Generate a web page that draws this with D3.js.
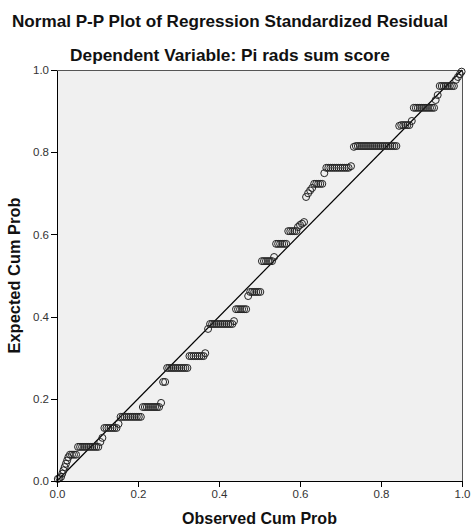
<!DOCTYPE html>
<html>
<head>
<meta charset="utf-8">
<script src="https://cdn.jsdelivr.net/npm/d3@7"></script>
<style>
  body { margin: 0; background: #fff; }
  .axis path, .axis line { stroke: #000; shape-rendering: crispEdges; }
  .axis text { fill: #333; font-family: "Liberation Sans", Arial, sans-serif; font-size: 11.5px; }
</style>
</head>
<body>
<script>
// Observed cumulative probability (x)
var observed = [
	0.002, 0.006, 0.010, 0.013, 0.016, 0.019, 0.022, 0.025, 0.028,
	0.032, 0.037, 0.042, 0.047,
	0.052, 0.057, 0.062, 0.067, 0.072, 0.077, 0.082, 0.087, 0.092, 0.097, 0.102,
	0.107, 0.112,
	0.117, 0.122, 0.127, 0.132, 0.137, 0.142, 0.147, 0.152,
	0.157, 0.162, 0.167, 0.172, 0.177, 0.182, 0.187, 0.192, 0.197, 0.202, 0.207,
	0.212, 0.217, 0.222, 0.227, 0.232, 0.237, 0.242, 0.247, 0.252, 0.257,
	0.262, 0.267,
	0.272, 0.277, 0.282, 0.287, 0.292, 0.297, 0.302, 0.307, 0.312, 0.317, 0.322,
	0.327, 0.332, 0.337, 0.342, 0.347, 0.352, 0.357, 0.362, 0.366,
	0.373,
	0.378, 0.383, 0.388, 0.393, 0.398, 0.403, 0.408, 0.413, 0.418, 0.423, 0.428, 0.433, 0.437,
	0.442, 0.447, 0.452, 0.457, 0.462, 0.467, 0.472,
	0.477, 0.482, 0.487, 0.492, 0.497, 0.502,
	0.506, 0.511, 0.516, 0.521, 0.526, 0.531, 0.536,
	0.541, 0.546, 0.551, 0.556, 0.561, 0.566,
	0.571, 0.576, 0.581, 0.586, 0.591, 0.595, 0.600, 0.605, 0.610,
	0.615, 0.620, 0.625, 0.630,
	0.635, 0.640, 0.645, 0.650, 0.655, 0.660,
	0.665, 0.670, 0.675, 0.680, 0.685, 0.690, 0.695, 0.700, 0.705, 0.710, 0.715, 0.720, 0.726,
	0.733,
	0.738, 0.743, 0.748, 0.753, 0.758, 0.763, 0.768, 0.773, 0.778, 0.783, 0.788,
	0.793, 0.798, 0.803, 0.808, 0.813, 0.818, 0.823, 0.828, 0.833, 0.838,
	0.845,
	0.850, 0.855, 0.860, 0.865, 0.870, 0.876,
	0.881, 0.886, 0.891, 0.896, 0.901, 0.906, 0.911, 0.916, 0.921, 0.926, 0.931, 0.935, 0.940,
	0.945, 0.950, 0.955, 0.960, 0.965, 0.970, 0.975, 0.980, 0.985, 0.990, 0.995, 0.999
];
// Expected cumulative probability (y), same order
var expected = [
	0.005, 0.007, 0.010, 0.018, 0.026, 0.034, 0.042, 0.050, 0.058,
	0.064, 0.064, 0.064, 0.064,
	0.083, 0.083, 0.083, 0.083, 0.083, 0.083, 0.083, 0.083, 0.083, 0.083, 0.083,
	0.095, 0.105,
	0.129, 0.129, 0.129, 0.129, 0.129, 0.129, 0.129, 0.139,
	0.156, 0.156, 0.156, 0.156, 0.156, 0.156, 0.156, 0.156, 0.156, 0.156, 0.156,
	0.180, 0.180, 0.180, 0.180, 0.180, 0.180, 0.180, 0.180, 0.180, 0.190,
	0.241, 0.241,
	0.275, 0.275, 0.275, 0.275, 0.275, 0.275, 0.275, 0.275, 0.275, 0.275, 0.275,
	0.304, 0.304, 0.304, 0.304, 0.304, 0.304, 0.304, 0.304, 0.311,
	0.370,
	0.382, 0.382, 0.382, 0.382, 0.382, 0.382, 0.382, 0.382, 0.382, 0.382, 0.382, 0.382, 0.389,
	0.418, 0.418, 0.418, 0.418, 0.418, 0.418, 0.450,
	0.460, 0.460, 0.460, 0.460, 0.460, 0.460,
	0.535, 0.535, 0.535, 0.535, 0.535, 0.535, 0.545,
	0.577, 0.577, 0.577, 0.577, 0.577, 0.577,
	0.608, 0.608, 0.608, 0.608, 0.608, 0.618, 0.623, 0.626, 0.630,
	0.691, 0.700, 0.707, 0.713,
	0.723, 0.723, 0.723, 0.723, 0.723, 0.749,
	0.762, 0.762, 0.762, 0.762, 0.762, 0.762, 0.762, 0.762, 0.762, 0.762, 0.762, 0.762, 0.766,
	0.813,
	0.815, 0.815, 0.815, 0.815, 0.815, 0.815, 0.815, 0.815, 0.815, 0.815, 0.815,
	0.815, 0.815, 0.815, 0.815, 0.815, 0.815, 0.815, 0.815, 0.815, 0.815,
	0.864,
	0.866, 0.866, 0.866, 0.866, 0.866, 0.876,
	0.908, 0.908, 0.908, 0.908, 0.908, 0.908, 0.908, 0.908, 0.908, 0.908, 0.908, 0.927, 0.939,
	0.961, 0.961, 0.961, 0.961, 0.961, 0.961, 0.961, 0.961, 0.976, 0.983, 0.990, 0.996
];
var tickValues = [0, 0.2, 0.4, 0.6, 0.8, 1.0];

var title = 'Normal P-P Plot of Regression Standardized Residual';
var subtitle = 'Dependent Variable: Pi rads sum score';
var xLabel = 'Observed Cum Prob';
var yLabel = 'Expected Cum Prob';

var points = observed.map(function(d, i) { return { x: d, y: expected[i] }; });

// Variables
var fontFamily = '"Liberation Sans", Arial, sans-serif';
var margin = { top: 70, right: 10, bottom: 48, left: 57 };
var width = 405;
var height = 411;

var svg = d3.select('body').append('svg')
		.attr('width', 473)
		.attr('height', 529);

// fit a text element to a given width
function fit(sel, w) {
	var fs = parseFloat(sel.attr('font-size'));
	var l = sel.node().getComputedTextLength();
	sel.attr('font-size', (fs * w / l).toFixed(2));
}

// Titles
svg.append('text')
		.attr('x', 230)
		.attr('y', 27)
		.attr('text-anchor', 'middle')
		.attr('font-family', fontFamily)
		.attr('font-weight', 'bold')
		.attr('font-size', 16)
		.attr('fill', '#111')
		.text(title)
		.call(fit, 436);
svg.append('text')
		.attr('x', 230)
		.attr('y', 61)
		.attr('text-anchor', 'middle')
		.attr('font-family', fontFamily)
		.attr('font-weight', 'bold')
		.attr('font-size', 15)
		.attr('fill', '#111')
		.text(subtitle)
		.call(fit, 320);

// Scaling
var xScale = d3.scaleLinear().domain([0, 1]).range([0, width]);
var yScale = d3.scaleLinear().domain([0, 1]).range([height, 0]);

var g = svg.append('g')
		.attr('transform', 'translate(' + margin.left + ',' + margin.top + ')');

// plot area
g.append('rect')
		.attr('width', width)
		.attr('height', height)
		.attr('fill', '#f0f0f0')
		.attr('stroke', '#555')
		.attr('stroke-width', 1)
		.attr('shape-rendering', 'crispEdges');

// Reference line
g.append('line')
		.attr('x1', xScale(0))
		.attr('y1', yScale(0))
		.attr('x2', xScale(1))
		.attr('y2', yScale(1))
		.attr('stroke', '#000')
		.attr('stroke-width', 1.2);

// Dots
g.selectAll('circle')
		.data(points)
		.enter()
	.append('circle')
		.attr('cx', function(d) { return xScale(d.x); })
		.attr('cy', function(d) { return yScale(d.y); })
		.attr('r', 3.5)
		.attr('fill', 'none')
		.attr('stroke', '#222')
		.attr('stroke-width', 1);

// Axes
var fmt = d3.format('.1f');
g.append('g')
		.attr('class', 'axis')
		.attr('transform', 'translate(0,' + height + ')')
		.call(d3.axisBottom(xScale).tickValues(tickValues).tickFormat(fmt).tickSize(6).tickSizeOuter(0).tickPadding(3));
g.append('g')
		.attr('class', 'axis')
		.call(d3.axisLeft(yScale).tickValues(tickValues).tickFormat(fmt).tickSize(6).tickSizeOuter(0).tickPadding(2));

// Axis labels
svg.append('text')
		.attr('x', margin.left + width / 2)
		.attr('y', 524)
		.attr('text-anchor', 'middle')
		.attr('font-family', fontFamily)
		.attr('font-weight', 'bold')
		.attr('font-size', 15)
		.attr('fill', '#111')
		.text(xLabel)
		.call(fit, 155);
svg.append('text')
		.attr('transform', 'translate(20,' + (margin.top + height / 2) + ') rotate(-90)')
		.attr('text-anchor', 'middle')
		.attr('font-family', fontFamily)
		.attr('font-weight', 'bold')
		.attr('font-size', 15)
		.attr('fill', '#111')
		.text(yLabel)
		.call(fit, 156);
</script>
</body>
</html>
